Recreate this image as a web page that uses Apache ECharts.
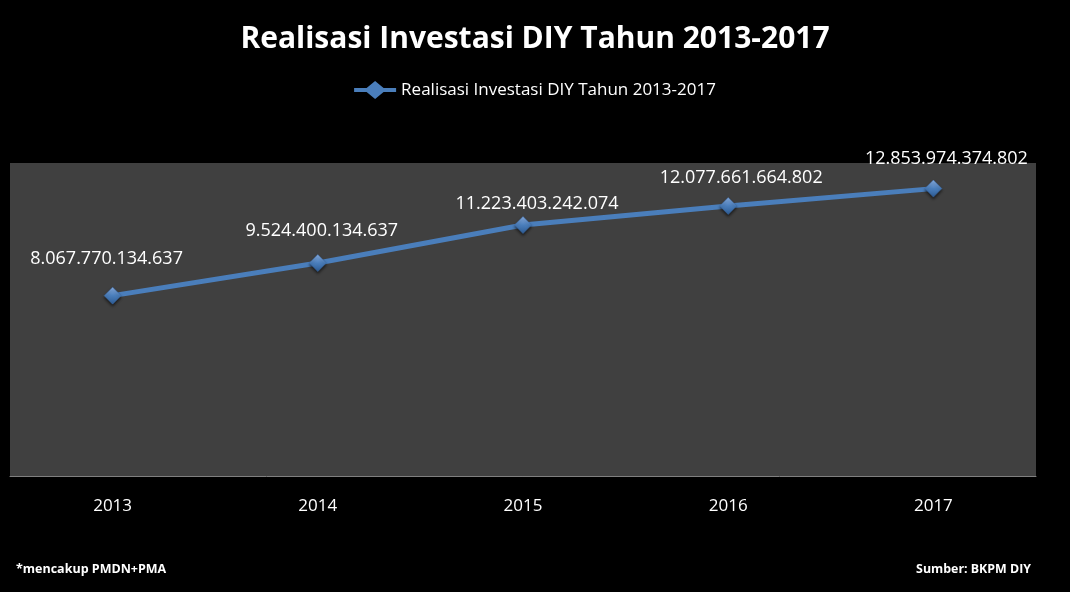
<!DOCTYPE html>
<html><head><meta charset="utf-8">
<style>html,body{margin:0;padding:0;background:#000;}#c{width:1070px;height:592px;}</style>
<script src="https://cdn.jsdelivr.net/npm/echarts@6/dist/echarts.min.js"></script>
</head><body><div id="c"></div>
<script>
const years = ['2013','2014','2015','2016','2017'];
const values = [8067770134637, 9524400134637, 11223403242074, 12077661664802, 12853974374802];
const seriesName = 'Realisasi Investasi DIY Tahun 2013-2017';
const titleText = 'Realisasi Investasi DIY Tahun 2013-2017';
const noteLeft = '*mencakup PMDN+PMA';
const noteRight = 'Sumber: BKPM DIY';

// label placement nudges (style only)
const labelNudge = [[-6,-1],[4,4],[14,15],[13,8],[13,6]];

function fmt(v){ return String(v).replace(/\B(?=(\d{3})+(?!\d))/g,'.'); }
const F = '"Open Sans", "Noto Sans", sans-serif';
const chart = echarts.init(document.getElementById('c'));
const markerColor = new echarts.graphic.LinearGradient(0,0,0,1,[{offset:0,color:'#8db3e8'},{offset:0.5,color:'#4a7ebb'},{offset:1,color:'#2c5a92'}]);
const seriesData = values.map((v,i)=>({value:v,label:{offset:labelNudge[i]}}));
chart.setOption({
  backgroundColor:'#000',
  animation:false,
  title:[
    {text:titleText,left:'center',top:19,textStyle:{color:'#fff',fontFamily:F,fontWeight:'bold',fontSize:30}},
    {text:noteLeft,left:11,top:558,textStyle:{color:'#fff',fontFamily:F,fontWeight:'bold',fontSize:12.5}},
    {text:noteRight,right:34,top:558,textStyle:{color:'#fff',fontFamily:F,fontWeight:'bold',fontSize:12.4}}
  ],
  legend:{top:76,left:'center',itemWidth:42,itemHeight:18,itemGap:4,
    textStyle:{color:'#fff',fontFamily:F,fontSize:17},
    data:[{name:seriesName,icon:'path://M0,7L12.5,7L21,0L29.5,7L42,7L42,11L29.5,11L21,18L12.5,11L0,11Z',
      itemStyle:{color:'#4a7ebb',borderWidth:0,shadowBlur:0}}]},
  grid:{left:10,right:34,top:163,bottom:116,show:true,backgroundColor:'#404040',borderWidth:0},
  xAxis:{type:'category',data:years,boundaryGap:true,
    axisLine:{lineStyle:{color:'#808080',width:1}},axisTick:{show:false},
    axisLabel:{color:'#fff',fontFamily:F,fontSize:17,margin:22}},
  yAxis:{type:'value',min:0,max:14000000000000,show:false,splitLine:{show:false}},
  series:[{name:seriesName,type:'line',data:seriesData,symbol:'diamond',symbolSize:17,
    lineStyle:{color:'#4a7ebb',width:5},
    itemStyle:{color:markerColor,borderColor:'#3a6aa8',borderWidth:0.5,shadowColor:'rgba(0,0,0,0.6)',shadowBlur:3,shadowOffsetY:2},
    label:{show:true,position:'top',distance:18,color:'#fff',fontFamily:F,fontSize:18,formatter:p=>fmt(p.value)}}]
});
</script></body></html>
